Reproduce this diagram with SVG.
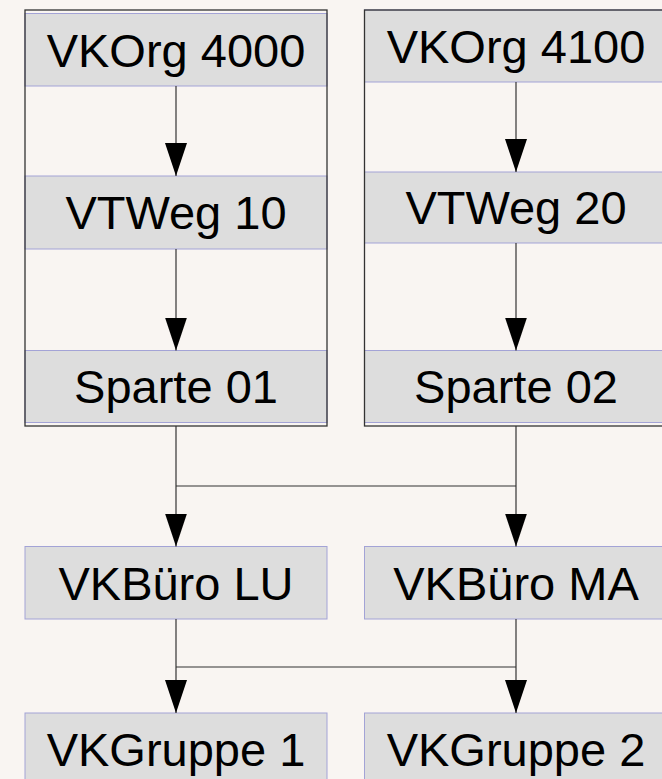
<svg xmlns="http://www.w3.org/2000/svg" width="662" height="779" viewBox="0 0 662 779">
  <defs>
    <style>
      .bg { fill: #f9f5f2; }
      .container { fill: none; stroke: #333333; stroke-width: 1.3; }
      .box { fill: #dddddd; stroke: #a3a3d6; stroke-width: 1; }
      .label { font-family: "Liberation Sans", Arial, sans-serif; font-size: 47px; fill: #000000; text-anchor: middle; }
      .conn { fill: none; stroke: #333333; stroke-width: 1.2; }
    </style>
    <marker id="arrow" markerUnits="userSpaceOnUse" markerWidth="33" markerHeight="22" refX="33" refY="11" orient="auto" viewBox="0 0 33 22">
      <path d="M0,0 L33,11 L0,22 z" fill="#000000"/>
    </marker>
  </defs>
  <rect class="bg" x="0" y="0" width="662" height="779"/>

  <g id="vkorg4000">
    <rect class="box" x="25" y="13.5" width="302" height="72.5"/>
    <text class="label" x="176" y="67">VKOrg 4000</text>
  </g>
  <g id="vtweg10">
    <rect class="box" x="25" y="176" width="302" height="73"/>
    <text class="label" x="176" y="229">VTWeg 10</text>
  </g>
  <g id="sparte01">
    <rect class="box" x="25" y="350.5" width="302" height="72"/>
    <text class="label" x="176" y="403">Sparte 01</text>
  </g>

  <g id="vkorg4100">
    <rect class="box" x="364.5" y="10" width="304" height="72"/>
    <text class="label" x="516" y="63">VKOrg 4100</text>
  </g>
  <g id="vtweg20">
    <rect class="box" x="364.5" y="172" width="304" height="71"/>
    <text class="label" x="516" y="224">VTWeg 20</text>
  </g>
  <g id="sparte02">
    <rect class="box" x="364.5" y="350.5" width="304" height="72"/>
    <text class="label" x="516" y="403">Sparte 02</text>
  </g>

  <g id="container-left">
    <rect class="container" x="25" y="10" width="302" height="416"/>
  </g>
  <g id="container-right">
    <rect class="container" x="364.5" y="10" width="304" height="416"/>
  </g>

  <g id="vkbuero-lu">
    <rect class="box" x="25" y="546.5" width="302" height="72.5"/>
    <text class="label" x="176" y="600">VKBüro LU</text>
  </g>
  <g id="vkbuero-ma">
    <rect class="box" x="364.5" y="546.5" width="304" height="72.5"/>
    <text class="label" x="516" y="600">VKBüro MA</text>
  </g>

  <g id="vkgruppe1">
    <rect class="box" x="25" y="713" width="302" height="73"/>
    <text class="label" x="176" y="766">VKGruppe 1</text>
  </g>
  <g id="vkgruppe2">
    <rect class="box" x="364.5" y="713" width="304" height="73"/>
    <text class="label" x="516" y="766">VKGruppe 2</text>
  </g>

  <g id="connectors">
    <path class="conn" d="M176 86 V176" marker-end="url(#arrow)"/>
    <path class="conn" d="M176 249 V350.5" marker-end="url(#arrow)"/>
    <path class="conn" d="M516 82 V172" marker-end="url(#arrow)"/>
    <path class="conn" d="M516 243 V350.5" marker-end="url(#arrow)"/>
    <path class="conn" d="M176 426 V546.5" marker-end="url(#arrow)"/>
    <path class="conn" d="M516 426 V546.5" marker-end="url(#arrow)"/>
    <path class="conn" d="M176 486 H516"/>
    <path class="conn" d="M176 619 V713" marker-end="url(#arrow)"/>
    <path class="conn" d="M516 619 V713" marker-end="url(#arrow)"/>
    <path class="conn" d="M176 667 H516"/>
  </g>
</svg>
